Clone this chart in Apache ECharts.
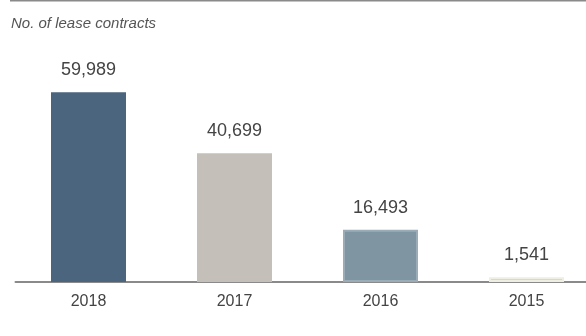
<!DOCTYPE html>
<html>
<head>
<meta charset="utf-8">
<script src="https://cdn.jsdelivr.net/npm/echarts@6/dist/echarts.min.js"></script>
<style>html,body{margin:0;padding:0;background:#fff;overflow:hidden;width:586px;height:336px}#c{width:600px;height:336px}</style>
</head>
<body>
<div id="c"></div>
<script>
var categories = ['2018', '2017', '2016', '2015'];
var contracts = [59989, 40699, 16493, 1541];
var title = 'No. of lease contracts';

var fills = ['#4a657d', '#c4bfb9', '#7f95a2', '#c9d1d8'];
var borders = ['#4a657d', '#c4bfb9', '#9aacb8', '#efeee2'];

var chart = echarts.init(document.getElementById('c'), null, {renderer: 'canvas'});
chart.setOption({
  animation: false,
  graphic: [
    {type: 'line', shape: {x1: 10, y1: 0.5, x2: 600, y2: 0.5}, style: {stroke: '#8a8a8a', lineWidth: 2}},
    {type: 'text', left: 11, top: 16, style: {text: title, font: 'italic 15px "Liberation Sans", Arial, sans-serif', fill: '#555555'}}
  ],
  grid: {left: 15.5, right: 0.5, top: 60.7, bottom: 54, containLabel: false},
  xAxis: {
    type: 'category',
    data: categories,
    axisLine: {lineStyle: {color: '#8a8a8a', width: 2}},
    axisTick: {show: false},
    axisLabel: {color: '#444444', fontSize: 16, fontFamily: '"Liberation Sans", Arial, sans-serif', margin: 12}
  },
  yAxis: {
    type: 'value', min: 0, max: 70000,
    show: false,
    splitLine: {show: false}
  },
  series: [{
    type: 'bar',
    barWidth: 75,
    data: contracts.map(function (v, i) {
      return {value: v, itemStyle: {color: fills[i], borderColor: borders[i], borderWidth: i >= 2 ? 2 : 0}};
    }),
    label: {
      show: true, position: 'top', distance: 13,
      color: '#444444', fontSize: 18, fontFamily: '"Liberation Sans", Arial, sans-serif',
      formatter: function (p) { return p.value.toLocaleString('en-US'); }
    }
  }]
});
</script>
</body>
</html>
